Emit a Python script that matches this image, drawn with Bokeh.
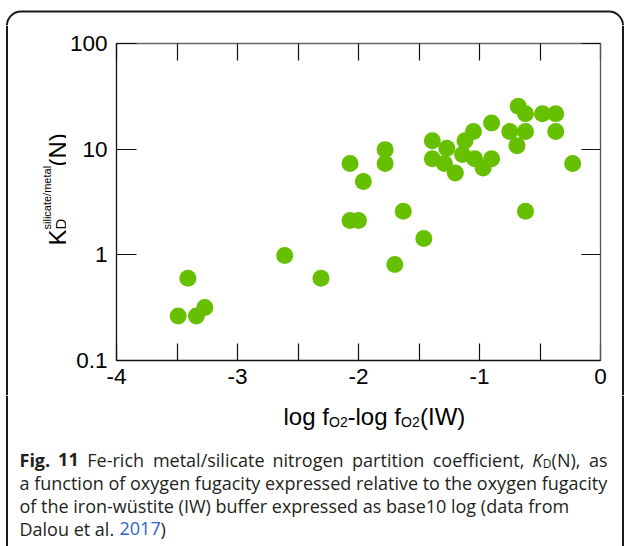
import math
from bokeh.plotting import figure
from bokeh.layouts import column, row
from bokeh.models import Range1d, LogAxis, LinearAxis, FixedTicker, ColumnDataSource
from bokeh.core.properties import value
from bokeh.embed import file_html
from bokeh.resources import INLINE

# ---- data ----
log_fo2_rel_iw = [-0.68, -0.62, -0.48, -0.37, -0.90, -0.75, -0.62, -0.37, -1.05,
                  -1.12, -1.39, -0.69, -1.27, -1.78, -1.39, -1.14, -1.04, -0.90,
                  -1.29, -0.97, -1.20, -2.07, -1.78, -0.23, -1.96, -1.63, -0.62,
                  -2.07, -2.00, -1.46, -2.61, -1.70, -2.31, -3.41, -3.27, -3.49,
                  -3.34]
kd_n = [25.5, 21.6, 21.6, 21.6, 17.7, 14.7, 14.7, 14.7, 14.7,
        12.0, 12.0, 10.8, 10.2, 9.9, 8.1, 8.9, 8.1, 8.1,
        7.3, 6.65, 5.96, 7.3, 7.3, 7.3, 4.95, 2.58, 2.58,
        2.11, 2.11, 1.43, 0.985, 0.81, 0.60, 0.60, 0.317, 0.264,
        0.264]

x_ticks = [-4, -3.5, -3, -2.5, -2, -1.5, -1, -0.5, 0]
x_tick_labels = ["-4", "", "-3", "", "-2", "", "-1", "", "0"]
y_ticks = [0.1, 1, 10, 100]
y_tick_labels = ["0.1", "1", "10", "100"]

FONT = "Liberation Sans"
CAP_FONT = "Open Sans"
FRAME_COL = "#1a1a1a"
CAP_COL = "#231f20"
LINK_COL = "#2f62c8"


def no_align(f):
    if "frame_align" in f.properties():
        f.frame_align = False


def aux(x0, y0, w, h):
    """Auxiliary figure whose data coordinates equal page pixels (y downwards)."""
    f = figure(width=w, height=h, x_range=Range1d(x0, x0 + w),
               y_range=Range1d(y0 + h, y0), x_axis_location=None,
               y_axis_location=None, output_backend="svg", toolbar_location=None,
               min_border=0)
    f.outline_line_color = None
    f.background_fill_color = "white"
    f.border_fill_color = "white"
    f.grid.visible = False
    no_align(f)
    return f


def txt(f, x, y, t, size, font=FONT, style="normal", color="black",
        align="left", baseline="alphabetic", angle=0.0):
    f.text(x=[x], y=[y], text=[t], text_font=value(font),
           text_font_size=value(f"{size}px"), text_font_style=style,
           text_color=color, text_align=align, text_baseline=baseline,
           angle=angle)


def vline(f, x, y0, y1):
    f.segment(x0=[x], y0=[y0], x1=[x], y1=[y1], line_color=FRAME_COL, line_width=2)


LEFT_W, MAIN_W, RIGHT_W = 66, 544, 16
ROW_TOP, ROW_H = 25, 370
TICK_FS = "22.5px"

# ---------------- main chart ----------------
p = figure(width=MAIN_W, height=ROW_H, x_range=Range1d(-4, 0), y_range=Range1d(0.1, 100),
           y_axis_type="log", x_axis_location=None, y_axis_location=None,
           output_backend="svg", toolbar_location=None,
           min_border_left=114 - LEFT_W, min_border_right=10, min_border_top=18,
           min_border_bottom=35)
p.outline_line_color = None
p.background_fill_color = "white"
p.border_fill_color = "white"
p.grid.visible = False
no_align(p)

common = dict(major_tick_out=0, minor_tick_in=0, minor_tick_out=0,
              major_label_text_font=FONT, major_tick_line_color="#111111",
              axis_line_color="#111111", axis_line_width=1.3,
              major_tick_line_width=1.2)

xb = LinearAxis(ticker=FixedTicker(ticks=x_ticks, minor_ticks=[]),
                major_label_overrides={float(t): l for t, l in zip(x_ticks, x_tick_labels)},
                major_tick_in=17, major_label_text_font_size=TICK_FS,
                major_label_standoff=8, major_label_text_color="black", **common)
p.add_layout(xb, "below")

xt = LinearAxis(ticker=FixedTicker(ticks=x_ticks, minor_ticks=[]),
                major_label_overrides={float(t): "" for t in x_ticks},
                major_tick_in=17, major_label_text_font_size="1px",
                major_label_standoff=0, **common)
xt.axis_line_color = "#666666"
p.add_layout(xt, "above")

yl = LogAxis(ticker=FixedTicker(ticks=y_ticks, minor_ticks=[]),
             major_label_overrides={float(t): l for t, l in zip(y_ticks, y_tick_labels)},
             major_tick_in=20, major_label_text_font_size=TICK_FS,
             major_label_standoff=9, major_label_text_color="black", **common)
p.add_layout(yl, "left")

yr = LogAxis(ticker=FixedTicker(ticks=y_ticks, minor_ticks=[]),
             major_label_overrides={float(t): "" for t in y_ticks},
             major_tick_in=19, major_label_text_font_size="1px",
             major_label_standoff=0, **common)
yr.axis_line_color = "#555555"
p.add_layout(yr, "right")

src = ColumnDataSource(dict(x=log_fo2_rel_iw, y=kd_n))
p.scatter("x", "y", source=src, size=17, marker="circle",
          fill_color="#66c000", line_color=None)

# ---------------- top strip: frame top with rounded corners ----------------
top = aux(0, 0, 626, ROW_TOP)
top.segment(x0=[20.5], y0=[11], x1=[608.5], y1=[11], line_color=FRAME_COL, line_width=2)
top.arc(x=[20.5], y=[25], radius=14, start_angle=math.pi / 2, end_angle=math.pi,
        direction="anticlock", line_color=FRAME_COL, line_width=2)
top.arc(x=[608.5], y=[25], radius=14, start_angle=0, end_angle=math.pi / 2,
        direction="anticlock", line_color=FRAME_COL, line_width=2)

# ---------------- left strip: y axis label ----------------
left = aux(0, ROW_TOP, LEFT_W, ROW_H)
vline(left, 6.5, ROW_TOP, ROW_TOP + ROW_H)
r = math.pi / 2
txt(left, 57, 245, "K", 24, angle=r)
txt(left, 60, 229, "D", 15, angle=r)
txt(left, 46, 229, "silicate/metal", 11, angle=r)
txt(left, 57, 166, "(N)", 24, angle=r)

# ---------------- right strip ----------------
right = aux(LEFT_W + MAIN_W, ROW_TOP, RIGHT_W, ROW_H)
vline(right, 622.5, ROW_TOP, ROW_TOP + ROW_H)

# ---------------- bottom: x label + caption ----------------
cap_top = ROW_TOP + ROW_H
cap = aux(0, cap_top, 626, 546 - cap_top)
vline(cap, 6.5, cap_top, 546)
vline(cap, 622.5, cap_top, 546)

xl_base = 416
txt(cap, 283, xl_base, "log f", 24)
txt(cap, 328.5, xl_base + 5, "O2", 14)
txt(cap, 347, xl_base, "-log f", 24)
txt(cap, 400.5, xl_base + 5, "O2", 14)
txt(cap, 419.5, xl_base, "(IW)", 24)

cs = 18
b1, lh = 459, 23
txt(cap, 19, b1, "Fig.", cs, font=CAP_FONT, style="bold", color=CAP_COL)
txt(cap, 57.6, b1, "11", cs, font=CAP_FONT, style="bold", color=CAP_COL)
txt(cap, 86.8, b1, "Fe-rich", cs, font=CAP_FONT, color=CAP_COL)
txt(cap, 152.4, b1, "metal/silicate", cs, font=CAP_FONT, color=CAP_COL)
txt(cap, 272, b1, "nitrogen", cs, font=CAP_FONT, color=CAP_COL)
txt(cap, 351.6, b1, "partition", cs, font=CAP_FONT, color=CAP_COL)
txt(cap, 432.2, b1, "coefficient,", cs, font=CAP_FONT, color=CAP_COL)
txt(cap, 531.8, b1, "K", cs, font=CAP_FONT, style="italic", color=CAP_COL)
txt(cap, 542.3, b1 + 4, "D", 12, font=CAP_FONT, color=CAP_COL)
txt(cap, 551.1, b1, "(N),", cs, font=CAP_FONT, color=CAP_COL)
txt(cap, 607, b1, "as", cs, font=CAP_FONT, color=CAP_COL, align="right")
txt(cap, 19, b1 + lh, "a function of oxygen fugacity expressed relative to the oxygen fugacity",
    cs, font=CAP_FONT, color=CAP_COL)
txt(cap, 19, b1 + 2 * lh, "of the iron-w\u00fcstite (IW) buffer expressed as base10 log (data from",
    cs, font=CAP_FONT, color=CAP_COL)
txt(cap, 19, b1 + 3 * lh, "Dalou et al.", cs, font=CAP_FONT, color=CAP_COL)
txt(cap, 119, b1 + 3 * lh, "2017", cs, font=CAP_FONT, color=LINK_COL)
txt(cap, 160, b1 + 3 * lh, ")", cs, font=CAP_FONT, color=CAP_COL)

rw = row(left, p, right)
layout = column(top, rw, cap)

open("out.html", "w").write(file_html(layout, INLINE))
